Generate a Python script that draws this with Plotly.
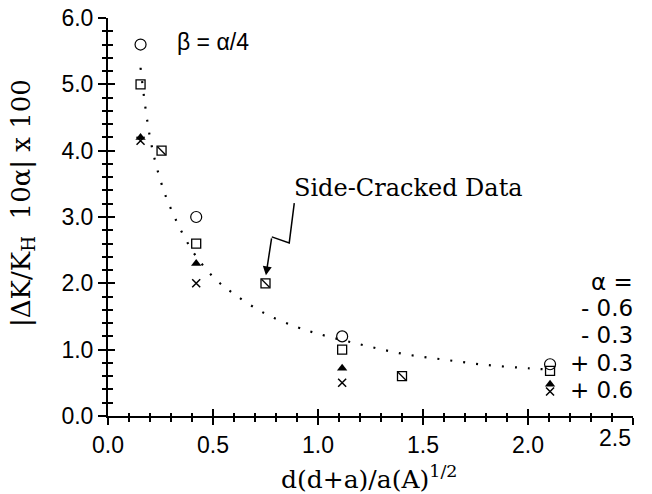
import plotly.graph_objects as go

# Data
x_main = [0.155, 0.42, 1.115, 2.105]
y_circle = [5.6, 3.0, 1.2, 0.78]      # alpha = -0.6
y_square = [5.0, 2.6, 1.0, 0.68]      # alpha = -0.3
y_triangle = [4.2, 2.3, 0.72, 0.48]   # alpha = +0.3
y_cross = [4.15, 2.0, 0.5, 0.37]      # alpha = +0.6

x_side = [0.255, 0.75, 1.4]           # side-cracked data
y_side = [4.0, 2.0, 0.6]

curve_x = [0.155, 0.2, 0.25, 0.3, 0.4, 0.5, 0.6, 0.75, 0.9, 1.0, 1.2, 1.4, 1.6, 1.8, 2.0, 2.1]
curve_y = [5.25, 4.2, 3.55, 3.12, 2.5, 2.1, 1.84, 1.54, 1.34, 1.24, 1.08, 0.94, 0.85, 0.77, 0.72, 0.70]

x_tick_vals = [0.0, 0.5, 1.0, 1.5, 2.0]
x_tick_text = ["0.0", "0.5", "1.0", "1.5", "2.0"]
x_last_tick = 2.5
x_last_label = "2.5"

legend_labels = ["\u03b1 =", "- 0.6", "- 0.3", "+ 0.3", "+ 0.6"]
legend_y = [2.02, 1.63, 1.22, 0.80, 0.39]

arrow_x = [0.887, 0.863, 0.78]
arrow_y = [3.21, 2.61, 2.70]
arrow_tip = (0.752, 2.12)

SANS = "Liberation Sans, Arial, sans-serif"
WIDE_SANS = "DejaVu Sans, sans-serif"
SERIF = "DejaVu Serif, serif"

fig = go.Figure()

fig.add_trace(go.Scatter(x=curve_x, y=curve_y, mode="lines", xaxis="x2", yaxis="y2",
                         line=dict(color="black", width=2.2, dash="2px,11px", shape="spline"),
                         showlegend=False, hoverinfo="skip"))

fig.add_trace(go.Scatter(x=x_main, y=y_circle, mode="markers",
                         marker=dict(symbol="circle-open", size=11, color="black", line=dict(width=1.2)),
                         showlegend=False))
fig.add_trace(go.Scatter(x=x_main, y=y_square, mode="markers",
                         marker=dict(symbol="square-open", size=9, color="black", line=dict(width=1.3)),
                         showlegend=False))
fig.add_trace(go.Scatter(x=x_main, y=y_triangle, mode="markers",
                         marker=dict(symbol="triangle-up", size=9, color="black", line=dict(width=0)),
                         showlegend=False))
fig.add_trace(go.Scatter(x=x_main, y=y_cross, mode="markers",
                         marker=dict(symbol="x-thin-open", size=8, color="black", line=dict(width=1.5)),
                         showlegend=False))
fig.add_trace(go.Scatter(x=x_side, y=y_side, mode="markers",
                         marker=dict(symbol="square-open", size=9, color="black", line=dict(width=1.3)),
                         showlegend=False))
fig.add_trace(go.Scatter(x=x_side, y=y_side, mode="markers",
                         marker=dict(symbol="line-nw", size=8, color="black", line=dict(width=1.3, color="black")),
                         showlegend=False))

# zigzag leader to side-cracked point
fig.add_trace(go.Scatter(x=arrow_x, y=arrow_y, mode="lines",
                         line=dict(color="black", width=1.5), showlegend=False, hoverinfo="skip"))
fig.add_annotation(x=arrow_tip[0], y=arrow_tip[1], ax=arrow_x[-1], ay=arrow_y[-1],
                   xref="x", yref="y", axref="x", ayref="y", text="", showarrow=True,
                   arrowhead=2, arrowsize=1.2, arrowwidth=1.5, arrowcolor="black")

fig.add_annotation(x=0.876, y=3.44, xref="x", yref="y", text="Side-Cracked Data", showarrow=False,
                   xanchor="left", yanchor="middle", font=dict(family=SERIF, size=24, color="black"))
fig.add_annotation(x=0.319, y=5.64, xref="x", yref="y", text="\u03b2 = \u03b1/4", showarrow=False,
                   xanchor="left", yanchor="middle", font=dict(family=SANS, size=23, color="black"))

for lab, ly in zip(legend_labels, legend_y):
    fig.add_annotation(x=1.004, y=ly, xref="paper", yref="y", text=lab, showarrow=False,
                       xanchor="right", yanchor="middle", font=dict(family=WIDE_SANS, size=23, color="black"))

# last x tick label sits flush with the axis end in the reference
fig.add_annotation(x=x_last_tick, y=-0.055, xref="x", yref="paper", text=x_last_label, showarrow=False,
                   xanchor="right", yanchor="middle", font=dict(family=SANS, size=23, color="black"))

fig.add_annotation(x=-0.164, y=0.535, xref="paper", yref="paper",
                   text="|\u0394K/K<sub>H</sub>  10\u03b1| x 100", textangle=-90, showarrow=False,
                   xanchor="center", yanchor="middle", font=dict(family=SERIF, size=26, color="black"))
fig.add_annotation(x=0.497, y=-0.155, xref="paper", yref="paper",
                   text="d(d+a)/a(A)<sup>1/2</sup>", showarrow=False,
                   xanchor="center", yanchor="middle", font=dict(family=SERIF, size=25, color="black"))

axis_common = dict(showgrid=False, zeroline=False, showline=True, linecolor="black", linewidth=2,
                   tickcolor="black", tickwidth=1.5, automargin=False)

fig.update_layout(
    template="none",
    width=652, height=494,
    margin=dict(l=108, r=19, t=18, b=78),
    paper_bgcolor="white", plot_bgcolor="white",
    showlegend=False,
    xaxis=dict(range=[0, 2.5], tickmode="array", tickvals=x_tick_vals + [x_last_tick],
               ticktext=x_tick_text + [""], ticks="outside", ticklen=7,
               tickfont=dict(family=SANS, size=23, color="black"), ticklabeloverflow="allow",
               minor=dict(dtick=0.1, tick0=0, ticks="outside", ticklen=4, tickcolor="black", tickwidth=1.5),
               **axis_common),
    yaxis=dict(range=[0, 6], dtick=1, tick0=0, tickformat=".1f", ticks="outside", ticklen=8,
               tickfont=dict(family=SANS, size=23, color="black"), ticklabeloverflow="allow",
               minor=dict(dtick=0.2, ticks="outside", ticklen=4, tickcolor="black", tickwidth=1.5),
               **axis_common),
    xaxis2=dict(range=[0, 2.5], dtick=0.5, tick0=0, overlaying="x", anchor="y2", side="bottom",
                ticks="inside", ticklen=7, showticklabels=False,
                minor=dict(dtick=0.1, ticks="inside", ticklen=3, tickcolor="black", tickwidth=1.5),
                **axis_common),
    yaxis2=dict(range=[0, 6], dtick=1, tick0=0, overlaying="y", anchor="x2", side="left",
                ticks="inside", ticklen=7, showticklabels=False,
                minor=dict(dtick=0.2, ticks="inside", ticklen=5, tickcolor="black", tickwidth=1.5),
                **axis_common),
)

fig.write_html("out.html", config={"displayModeBar": False},
               post_script="document.body.style.margin='0';document.body.style.overflow='hidden';")
